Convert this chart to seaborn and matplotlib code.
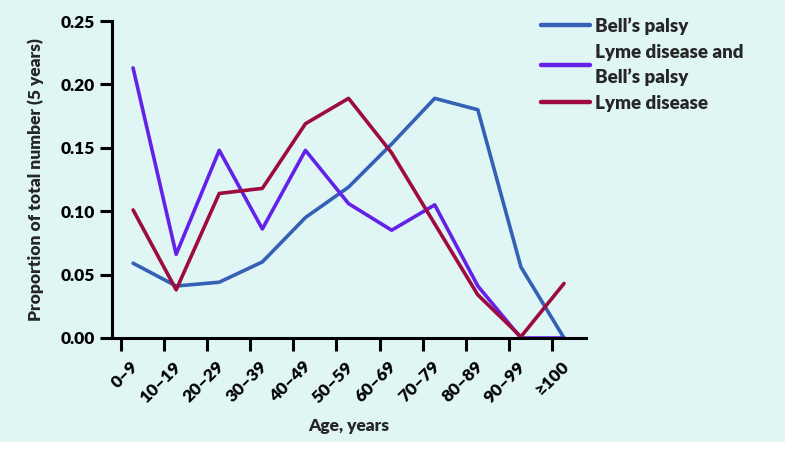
import numpy as np
import pandas as pd
import matplotlib
matplotlib.use("Agg")
import matplotlib.pyplot as plt
import matplotlib.transforms as mtransforms
from matplotlib.patches import Rectangle
import seaborn as sns

age_groups = ["0–9", "10–19", "20–29", "30–39", "40–49", "50–59",
              "60–69", "70–79", "80–89", "90–99", "≥100"]
bells_palsy = [0.059, 0.041, 0.044, 0.060, 0.095, 0.119, 0.153, 0.189, 0.180, 0.056, 0.0]
lyme_and_bells = [0.213, 0.066, 0.148, 0.086, 0.148, 0.106, 0.085, 0.105, 0.041, 0.0, 0.0]
lyme_disease = [0.101, 0.038, 0.114, 0.118, 0.169, 0.189, 0.146, 0.090, 0.034, 0.001, 0.043]
series_names = ["Bell’s palsy", "Lyme disease and\nBell’s palsy", "Lyme disease"]
y_ticks = [0.00, 0.05, 0.10, 0.15, 0.20, 0.25]

colors = ["#3461b5", "#6422e8", "#9e0b3e"]
bg = "#e0f6f5"

sns.set_theme(style="ticks")
plt.rcParams["font.family"] = ["Lato", "DejaVu Sans"]
W = "heavy"

pos = np.arange(len(age_groups))
df = pd.concat([
    pd.DataFrame({"pos": pos, "value": vals, "series": name})
    for name, vals in zip(series_names, [bells_palsy, lyme_and_bells, lyme_disease])
])

fig = plt.figure(figsize=(7.85, 4.55), dpi=100, facecolor="white")
fig.patches.append(Rectangle((0, 13 / 455), 1, 1 - 13 / 455, transform=fig.transFigure,
                             facecolor=bg, edgecolor="none", zorder=-10))
ax = fig.add_axes([112 / 785, 1 - 338 / 455, (586 - 112) / 785, (338 - 21) / 455])
ax.patch.set_alpha(0)

sns.lineplot(data=df, x="pos", y="value", hue="series", palette=colors,
             hue_order=series_names, linewidth=2.6, ax=ax, legend=True)

for s in ["top", "right"]:
    ax.spines[s].set_visible(False)
for s in ["left", "bottom"]:
    ax.spines[s].set_color("black")
    ax.spines[s].set_linewidth(2.2)
ax.tick_params(axis="both", which="major", direction="out", length=9, width=2.2,
               color="black", pad=3, labelcolor="black")

off = 0.28
ax.set_xlim(-0.209 - off, 10.79 - off)
ax.set_ylim(0, 0.25)
ax.set_xticks(pos - off)
ax.set_xticklabels(age_groups, rotation=45, ha="right", va="top",
                   fontsize=12.5, fontweight=W)
ax.set_yticks(y_ticks)
ax.set_yticklabels([f"{v:.2f}" for v in y_ticks], fontsize=12.5, fontweight=W)
shift = mtransforms.ScaledTranslation(20 / 100, -4 / 100, fig.dpi_scale_trans)
for lab in ax.get_xticklabels():
    lab.set_transform(lab.get_transform() + shift)

ax.set_xlabel("Age, years", fontsize=12.5, fontweight=W, labelpad=9)
ax.set_ylabel("Proportion of total number (5 years)", fontsize=12.5, fontweight=W, labelpad=12)

handles, labels = ax.get_legend_handles_labels()
ax.get_legend().remove()
leg = fig.legend(handles, labels, loc="upper left",
                 bbox_to_anchor=(541 / 785, 1 - 17 / 455), frameon=False,
                 handlelength=2.6, handletextpad=0.3, borderpad=0, borderaxespad=0,
                 labelspacing=0.5, prop={"size": 13.5, "weight": W})
for t in leg.get_texts():
    t.set_linespacing(1.45)
for line in leg.get_lines():
    line.set_linewidth(3.2)

fig.savefig("out.png", dpi=100, facecolor="white")
